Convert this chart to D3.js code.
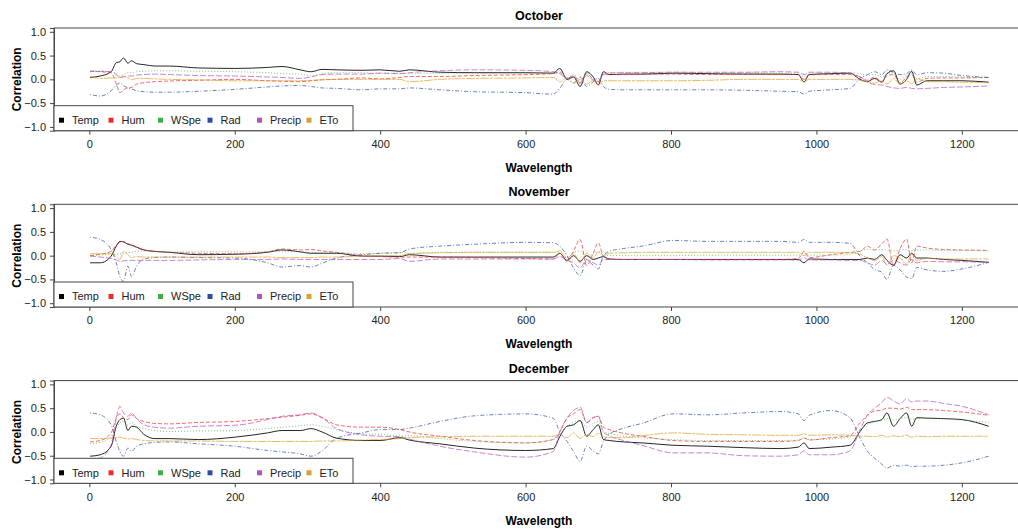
<!DOCTYPE html>
<html>
<head>
<meta charset="utf-8">
<script src="https://cdn.jsdelivr.net/npm/d3@7"></script>
<style>
  body { margin: 0; background: #fff; }
  svg { display: block; font-family: "Liberation Sans", Arial, sans-serif; }
</style>
</head>
<body>
<div id="chart"></div>
<script>
// dimensions de la page
const width = 1018;
const height = 532;

// longueurs d'onde
const wl = [1, 15, 30, 37, 42, 47, 53, 58, 65, 75, 90, 110, 150, 200, 245, 265, 290, 305, 320, 340,
  375, 400, 427, 440, 482, 530, 600, 638, 647, 657, 666, 675, 684, 693, 700, 707, 715, 735, 760, 803,
  850, 900, 950, 975, 983, 990, 1020, 1046, 1060, 1070, 1080, 1090, 1097, 1106, 1115, 1124, 1131, 1138, 1152, 1175,
  1200, 1237];

const months = ["October", "November", "December"];
const vars = ["Temp", "Hum", "WSpe", "Rad", "Precip", "ETo"];
const yTicks = [-1, -0.5, 0, 0.5, 1];
const xTicks = [0, 200, 400, 600, 800, 1000, 1200];

// --- Octobre ---
const octTemp = [0.04, 0.07, 0.16, 0.35, 0.37, 0.45, 0.34, 0.39, 0.33, 0.31, 0.28, 0.28, 0.24, 0.23, 0.25, 0.27, 0.2, 0.16, 0.21, 0.2,
  0.19, 0.2, 0.17, 0.2, 0.15, 0.14, 0.14, 0.13, 0.23, 0.0, 0.05, -0.15, 0.16, 0.05, -0.12, 0.16, 0.1, 0.11, 0.11, 0.13,
  0.12, 0.11, 0.11, 0.1, -0.05, 0.1, 0.12, 0.13, 0.0, -0.05, 0.02, -0.06, 0.12, 0.18, -0.1, 0.0, 0.17, -0.12, -0.03, -0.03,
  -0.03, -0.06];
const octHum = [0.17, 0.16, 0.14, -0.1, -0.28, -0.22, -0.18, -0.17, -0.1, -0.07, -0.05, -0.035, -0.02, 0.0, -0.03, -0.04, -0.05, -0.03, -0.01, 0.0,
  0.03, 0.01, 0.04, 0.06, 0.06, 0.08, 0.1, 0.12, 0.15, 0.02, 0.08, -0.08, 0.12, 0.0, -0.06, 0.12, 0.1, 0.1, 0.11, 0.11,
  0.1, 0.11, 0.1, 0.1, 0.0, 0.1, 0.1, 0.1, 0.05, -0.02, 0.05, -0.05, 0.08, 0.1, -0.08, 0.05, 0.1, -0.06, 0.02, 0.03,
  0.03, 0.04];
const octWSpe = [0.17, 0.17, 0.16, 0.12, 0.07, 0.1, 0.14, 0.14, 0.16, 0.17, 0.18, 0.18, 0.17, 0.16, 0.14, 0.12, 0.11, 0.07, 0.12, 0.14,
  0.14, 0.13, 0.13, 0.12, 0.13, 0.13, 0.13, 0.13, 0.18, 0.03, 0.1, -0.05, 0.14, 0.05, -0.03, 0.14, 0.14, 0.15, 0.15, 0.15,
  0.14, 0.14, 0.13, 0.13, 0.05, 0.13, 0.13, 0.14, 0.12, 0.08, 0.1, 0.05, 0.12, 0.14, 0.0, 0.08, 0.14, 0.0, 0.06, 0.06,
  0.05, 0.04];
const octRad = [-0.32, -0.35, -0.24, -0.12, -0.08, -0.13, -0.18, -0.2, -0.24, -0.26, -0.27, -0.27, -0.25, -0.21, -0.16, -0.14, -0.13, -0.15, -0.18, -0.19,
  -0.22, -0.2, -0.2, -0.18, -0.22, -0.26, -0.28, -0.31, -0.19, 0.0, -0.08, 0.05, -0.15, -0.05, 0.02, -0.15, -0.21, -0.22, -0.22, -0.22,
  -0.22, -0.23, -0.25, -0.26, -0.31, -0.25, -0.22, -0.19, 0.02, 0.1, 0.16, 0.1, 0.2, 0.15, 0.1, 0.12, 0.2, 0.1, 0.14, 0.13,
  0.08, 0.04];
const octPrecip = [0.17, 0.17, 0.16, 0.1, 0.04, 0.05, 0.07, 0.07, 0.09, 0.1, 0.11, 0.1, 0.08, 0.07, 0.05, 0.04, 0.02, 0.05, 0.1, 0.11,
  0.11, 0.13, 0.12, 0.14, 0.18, 0.2, 0.19, 0.16, 0.12, 0.02, 0.05, -0.08, 0.08, -0.02, -0.05, 0.1, 0.13, 0.14, 0.14, 0.15,
  0.15, 0.15, 0.16, 0.15, 0.1, 0.15, 0.15, 0.13, 0.05, -0.05, -0.11, -0.12, -0.15, -0.18, -0.19, -0.17, -0.19, -0.2, -0.19, -0.17,
  -0.16, -0.14];
const octETo = [0.06, 0.02, 0.03, 0.03, 0.04, 0.07, 0.03, -0.01, 0.02, 0.02, 0.01, 0.0, -0.01, -0.03, -0.03, -0.03, -0.03, -0.02, -0.01, 0.0,
  0.0, 0.0, 0.0, -0.05, 0.0, 0.02, 0.03, 0.04, -0.05, 0.03, -0.08, 0.0, -0.1, -0.02, -0.12, -0.03, -0.03, -0.03, -0.03, -0.03,
  -0.02, 0.0, 0.0, 0.0, -0.06, 0.0, 0.0, 0.0, -0.02, -0.05, -0.08, -0.03, -0.1, 0.02, -0.1, -0.03, -0.09, 0.02, -0.05, -0.05,
  -0.06, -0.07];

// --- Novembre ---
const novTemp = [-0.15, -0.15, -0.01, 0.2, 0.3, 0.29, 0.24, 0.22, 0.18, 0.12, 0.09, 0.07, 0.02, 0.03, 0.07, 0.12, 0.08, 0.05, 0.05, 0.05,
  -0.01, -0.01, -0.02, 0.02, -0.03, -0.03, -0.03, -0.03, 0.05, -0.1, 0.0, -0.12, 0.0, -0.08, -0.05, -0.02, -0.07, -0.08, -0.08, -0.08,
  -0.08, -0.08, -0.08, -0.08, -0.15, -0.07, -0.08, -0.08, -0.08, -0.05, -0.08, 0.02, -0.1, -0.2, 0.02, -0.05, 0.05, -0.05, -0.05, -0.08,
  -0.1, -0.14];
const novHum = [0.0, 0.03, 0.09, 0.22, 0.28, 0.3, 0.25, 0.23, 0.17, 0.12, 0.09, 0.07, 0.05, 0.04, 0.08, 0.14, 0.12, 0.13, 0.1, 0.07,
  0.0, -0.02, -0.03, -0.03, -0.03, -0.04, -0.06, -0.07, 0.05, -0.12, 0.1, 0.34, -0.21, 0.05, 0.27, -0.02, -0.08, -0.08, -0.08, -0.08,
  -0.08, -0.08, -0.08, -0.06, 0.09, -0.04, 0.02, 0.07, 0.09, 0.2, 0.12, 0.25, 0.35, -0.22, 0.15, 0.35, -0.15, 0.2, 0.16, 0.13,
  0.12, 0.11];
const novWSpe = [0.0, 0.02, 0.02, 0.03, 0.04, 0.05, 0.06, 0.07, 0.09, 0.1, 0.09, 0.08, 0.08, 0.08, 0.08, 0.09, 0.08, 0.07, 0.06, 0.06,
  0.04, 0.05, 0.07, 0.05, 0.07, 0.07, 0.07, 0.07, 0.05, -0.05, 0.06, 0.1, -0.06, 0.05, 0.08, 0.02, 0.0, 0.0, 0.0, 0.0,
  0.01, 0.01, 0.01, 0.01, 0.05, 0.01, 0.01, 0.03, 0.1, 0.13, 0.12, 0.13, 0.12, 0.1, 0.13, 0.12, 0.1, 0.12, 0.12, 0.11,
  0.11, 0.1];
const novRad = [0.39, 0.34, 0.13, -0.15, -0.44, -0.54, -0.22, -0.44, -0.22, -0.07, -0.04, -0.03, -0.04, -0.05, -0.15, -0.24, -0.21, -0.24, -0.16, -0.05,
  0.02, 0.05, 0.06, 0.14, 0.2, 0.24, 0.28, 0.27, 0.2, 0.0, -0.26, -0.42, -0.1, -0.2, -0.28, 0.0, 0.09, 0.15, 0.2, 0.32,
  0.3, 0.3, 0.3, 0.28, 0.34, 0.28, 0.28, 0.26, -0.01, -0.15, -0.29, -0.35, -0.5, -0.2, -0.3, -0.45, -0.48, -0.25, -0.3, -0.33,
  -0.28, -0.14];
const novPrecip = [-0.01, -0.03, -0.06, -0.09, -0.12, -0.11, -0.1, -0.1, -0.1, -0.1, -0.1, -0.1, -0.09, -0.08, -0.08, -0.07, -0.08, -0.08, -0.08, -0.08,
  -0.08, -0.08, -0.06, -0.12, -0.07, -0.07, -0.07, -0.07, -0.02, -0.1, -0.15, -0.26, -0.08, -0.15, -0.2, -0.08, -0.08, -0.08, -0.08, -0.08,
  -0.09, -0.09, -0.09, -0.09, -0.05, -0.09, -0.09, -0.1, -0.1, -0.15, -0.2, -0.1, -0.18, -0.1, -0.15, -0.2, -0.08, -0.15, -0.12, -0.13,
  -0.13, -0.14];
const novETo = [0.04, 0.04, 0.04, -0.02, -0.08, 0.09, 0.02, -0.04, -0.02, -0.03, -0.03, -0.03, -0.03, -0.03, -0.03, -0.04, -0.04, -0.04, -0.03, -0.03,
  -0.01, 0.0, 0.0, 0.04, 0.06, 0.07, 0.07, 0.07, 0.1, -0.05, 0.05, -0.15, 0.05, -0.05, 0.08, 0.0, 0.05, 0.06, 0.07, 0.07,
  0.07, 0.07, 0.07, 0.07, 0.0, 0.07, 0.07, 0.06, 0.03, -0.05, -0.1, -0.02, -0.2, 0.0, -0.05, -0.18, 0.03, -0.1, -0.06, -0.07,
  -0.07, -0.07];

// --- Décembre ---
const decTemp = [-0.51, -0.48, -0.3, 0.12, 0.26, 0.29, 0.03, 0.12, 0.1, -0.05, -0.14, -0.14, -0.16, -0.11, -0.02, 0.03, 0.03, 0.07, 0.0, -0.13,
  -0.18, -0.18, -0.12, -0.17, -0.25, -0.34, -0.39, -0.35, -0.1, 0.12, 0.15, 0.24, -0.09, 0.05, 0.15, -0.16, -0.18, -0.21, -0.23, -0.28,
  -0.3, -0.33, -0.35, -0.32, -0.23, -0.35, -0.32, -0.28, 0.01, 0.19, 0.22, 0.26, 0.4, 0.12, 0.28, 0.4, 0.12, 0.3, 0.29, 0.28,
  0.26, 0.12];
const decHum = [-0.21, -0.18, -0.02, 0.29, 0.38, 0.3, 0.26, 0.36, 0.28, 0.22, 0.18, 0.17, 0.2, 0.22, 0.28, 0.31, 0.35, 0.38, 0.3, 0.15,
  0.1, 0.1, 0.05, 0.0, -0.09, -0.18, -0.23, -0.16, 0.0, 0.29, 0.38, 0.47, 0.2, 0.3, 0.33, 0.1, 0.05, -0.03, -0.09, -0.18,
  -0.2, -0.2, -0.2, -0.18, -0.13, -0.17, -0.12, -0.08, 0.19, 0.35, 0.44, 0.46, 0.5, 0.5, 0.48, 0.52, 0.47, 0.47, 0.47, 0.45,
  0.42, 0.35];
const decWSpe = [-0.25, -0.22, -0.1, 0.1, 0.19, 0.22, 0.14, 0.2, 0.12, 0.07, 0.03, 0.01, 0.02, 0.03, 0.07, 0.1, 0.13, 0.15, 0.12, 0.05,
  -0.04, -0.05, -0.08, -0.08, -0.14, -0.2, -0.23, -0.16, -0.05, 0.12, 0.2, 0.24, 0.1, 0.18, 0.22, 0.0, -0.03, -0.09, -0.12, -0.16,
  -0.18, -0.18, -0.18, -0.17, -0.12, -0.16, -0.15, -0.1, 0.05, 0.16, 0.22, 0.25, 0.28, 0.25, 0.28, 0.3, 0.27, 0.28, 0.29, 0.28,
  0.25, 0.2];
const decRad = [0.4, 0.36, 0.15, -0.2, -0.41, -0.51, -0.34, -0.41, -0.3, -0.25, -0.22, -0.21, -0.25, -0.3, -0.39, -0.42, -0.46, -0.51, -0.4, -0.13,
  -0.02, 0.05, 0.05, 0.08, 0.22, 0.34, 0.38, 0.29, 0.0, -0.2, -0.41, -0.62, -0.3, -0.4, -0.46, -0.2, -0.05, 0.08, 0.18, 0.38,
  0.36, 0.4, 0.43, 0.38, 0.24, 0.35, 0.45, 0.3, -0.13, -0.4, -0.55, -0.68, -0.76, -0.7, -0.72, -0.7, -0.73, -0.72, -0.72, -0.7,
  -0.65, -0.51];
const decPrecip = [-0.6, -0.55, -0.27, 0.29, 0.54, 0.4, 0.33, 0.4, 0.28, 0.15, 0.1, 0.08, 0.12, 0.14, 0.26, 0.33, 0.36, 0.4, 0.3, 0.07,
  -0.06, -0.09, -0.1, -0.15, -0.3, -0.42, -0.53, -0.41, 0.0, 0.29, 0.45, 0.52, 0.2, 0.3, 0.33, 0.0, -0.08, -0.18, -0.28, -0.44,
  -0.44, -0.5, -0.51, -0.48, -0.4, -0.48, -0.48, -0.4, 0.05, 0.35, 0.5, 0.62, 0.73, 0.65, 0.59, 0.7, 0.63, 0.65, 0.65, 0.6,
  0.54, 0.36];
const decETo = [-0.14, -0.14, -0.13, -0.12, -0.11, -0.13, -0.15, -0.14, -0.16, -0.18, -0.19, -0.19, -0.19, -0.2, -0.2, -0.2, -0.2, -0.2, -0.19, -0.19,
  -0.17, -0.16, -0.14, -0.12, -0.1, -0.09, -0.09, -0.09, -0.05, -0.12, -0.02, -0.14, -0.05, -0.1, -0.03, -0.1, -0.12, -0.12, -0.08, -0.02,
  -0.05, -0.06, -0.07, -0.07, -0.04, -0.07, -0.06, -0.07, -0.09, -0.09, -0.1, -0.07, -0.11, -0.08, -0.1, -0.07, -0.11, -0.09, -0.1, -0.09,
  -0.09, -0.09];

// tableau des séries par mois (même ordre que vars)
const monthData = [
  [octTemp, octHum, octWSpe, octRad, octPrecip, octETo],
  [novTemp, novHum, novWSpe, novRad, novPrecip, novETo],
  [decTemp, decHum, decWSpe, decRad, decPrecip, decETo]
];

// styles des lignes (lty 1 à 6 de R)
const colors = ["#000000", "#EE2C2C", "#3CB043", "#2F4B9F", "#B453B4", "#D8A02C"];
const dashes = [null, "4,2", "1,2", "1,2,4,2", "6,2", "9,1,3,1"];

// --- mise en page ---
const panelH = 176.3;
const plotTop = 28;
const plotH = 102.7;
const left = 54;

const x = d3.scaleLinear().domain([-48.6, 1289.6]).range([left, 1027]);

const svg = d3.select("#chart").append("svg")
  .attr("width", width)
  .attr("height", height);

months.forEach((m, i) => {
  const g = svg.append("g").attr("transform", `translate(0,${i * panelH})`);
  const y = d3.scaleLinear().domain([-1.08, 1.08]).range([plotTop + plotH, plotTop]);

  // lignes
  const line = d3.line()
    .x((d, k) => x(wl[k]))
    .y(d => y(d))
    .curve(d3.curveMonotoneX);

  monthData[i].forEach((vals, j) => {
    g.append("path")
      .attr("d", line(vals))
      .attr("fill", "none")
      .attr("stroke", colors[j])
      .attr("stroke-width", 1)
      .attr("stroke-opacity", j === 0 ? 0.85 : 0.7)
      .attr("stroke-dasharray", dashes[j]);
  });

  // cadre
  g.append("rect")
    .attr("x", left).attr("y", plotTop)
    .attr("width", 1027 - left).attr("height", plotH)
    .attr("fill", "none").attr("stroke", "#444").attr("stroke-width", 1);

  // axe Y
  const yAxis = d3.axisLeft(y).tickValues(yTicks).tickSize(4).tickFormat(d3.format(".1f"));
  const ya = g.append("g").attr("transform", `translate(${left},0)`).call(yAxis);
  ya.select(".domain").attr("stroke", "#444");
  ya.selectAll(".tick line").attr("stroke", "#444");
  ya.selectAll("text").attr("font-size", 11).attr("fill", "#222")
    .attr("font-family", "Liberation Sans, Arial, sans-serif").attr("dx", -1);

  // axe X
  const xAxis = d3.axisBottom(x).tickValues(xTicks).tickSize(4).tickFormat(d3.format("d"));
  const xa = g.append("g").attr("transform", `translate(0,${plotTop + plotH})`).call(xAxis);
  xa.select(".domain").remove();
  xa.selectAll(".tick line").attr("stroke", "#444");
  xa.selectAll("text").attr("font-size", 11).attr("fill", "#222")
    .attr("font-family", "Liberation Sans, Arial, sans-serif").attr("dy", "0.95em");

  // titres
  g.append("text")
    .attr("x", 539).attr("y", 20)
    .attr("text-anchor", "middle").attr("font-weight", "bold").attr("font-size", 12.5)
    .text(m);

  g.append("text")
    .attr("x", 539).attr("y", 172)
    .attr("text-anchor", "middle").attr("font-weight", "bold").attr("font-size", 12)
    .text("Wavelength");

  g.append("text")
    .attr("transform", `translate(21,${plotTop + plotH / 2}) rotate(-90)`)
    .attr("text-anchor", "middle").attr("font-weight", "bold").attr("font-size", 12)
    .text("Correlation");

  // légende
  const legTop = plotTop + plotH - 25;
  g.append("rect")
    .attr("x", left).attr("y", legTop)
    .attr("width", 299).attr("height", 25)
    .attr("fill", "#fff").attr("stroke", "#444").attr("stroke-width", 1);

  vars.forEach((v, j) => {
    const lx = left + 5 + j * 49.5;
    g.append("rect")
      .attr("x", lx).attr("y", legTop + 12)
      .attr("width", 5).attr("height", 5)
      .attr("fill", colors[j]);
    g.append("text")
      .attr("x", lx + 13).attr("y", legTop + 18.5)
      .attr("font-size", 11).attr("fill", "#222")
      .text(v);
  });
});
</script>
</body>
</html>
